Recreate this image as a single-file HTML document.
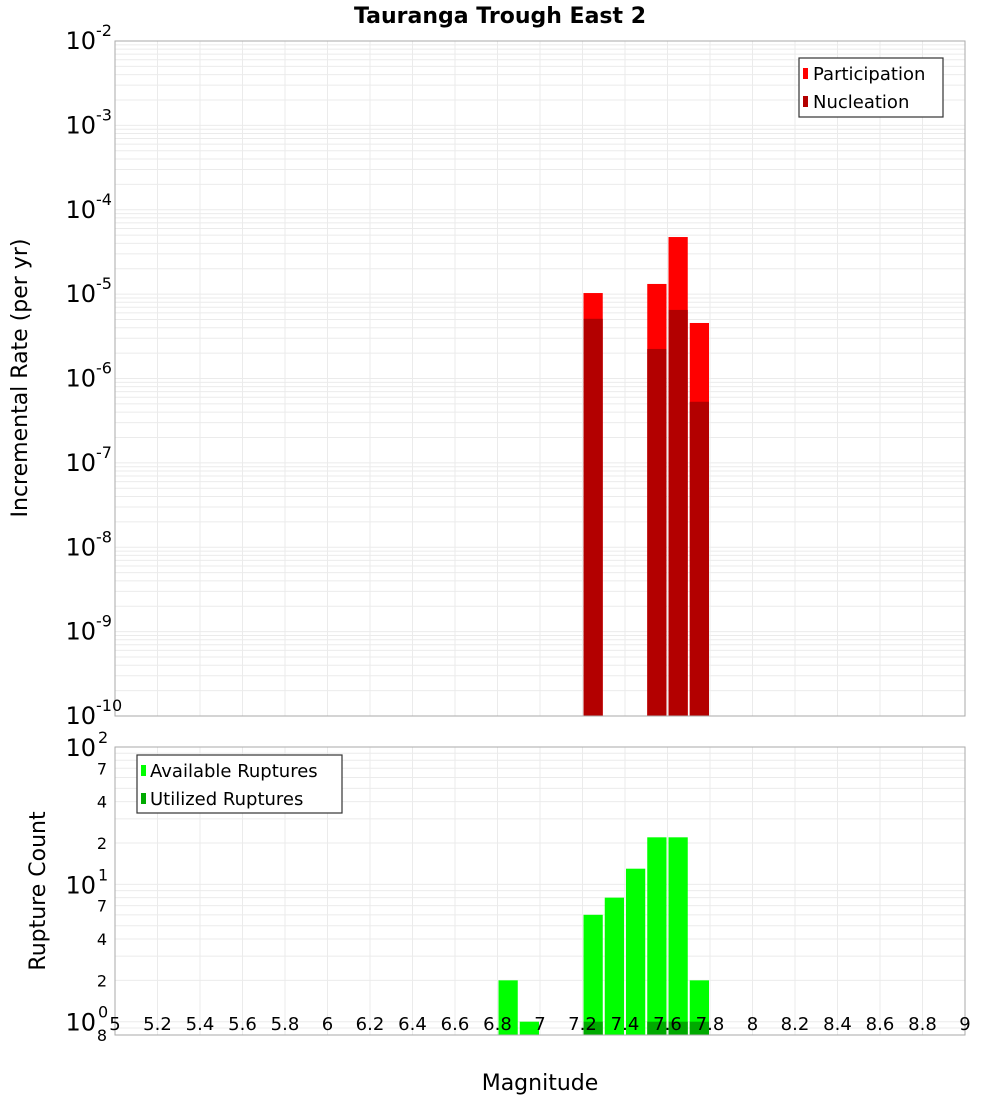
<!DOCTYPE html>
<html><head><meta charset="utf-8"><style>
body{margin:0;background:#fff;}
svg{display:block;font-family:"DejaVu Sans","Liberation Sans",sans-serif;}
</style></head><body>
<svg id="chart" width="1000" height="1100" viewBox="0 0 1000 1100" xmlns="http://www.w3.org/2000/svg">
<text x="500" y="23" text-anchor="middle" font-size="22" font-weight="bold">Tauranga Trough East 2</text>
<g id="topPanel"></g>
<g id="botPanel"></g>
<text transform="translate(27,378) rotate(-90)" text-anchor="middle" font-size="22">Incremental Rate (per yr)</text>
<text transform="translate(45,891) rotate(-90)" text-anchor="middle" font-size="22">Rupture Count</text>
<text x="540" y="1090" text-anchor="middle" font-size="22">Magnitude</text>
<g>
<rect x="799" y="58" width="144" height="59" fill="#fff" stroke="#333" stroke-width="1.2"/>
<rect x="803" y="68" width="5" height="11" fill="#ff0000"/>
<text x="813" y="80" font-size="18">Participation</text>
<rect x="803" y="96" width="5" height="11" fill="#b30000"/>
<text x="813" y="108" font-size="18">Nucleation</text>
</g>
<g>
<rect x="137" y="755" width="205" height="58" fill="#fff" stroke="#333" stroke-width="1.2"/>
<rect x="141" y="765" width="5" height="11" fill="#00ff00"/>
<text x="150" y="777" font-size="18">Available Ruptures</text>
<rect x="141" y="793" width="5" height="11" fill="#00aa00"/>
<text x="150" y="805" font-size="18">Utilized Ruptures</text>
</g>
</svg>
<script>
const xTicks = [5,5.2,5.4,5.6,5.8,6,6.2,6.4,6.6,6.8,7,7.2,7.4,7.6,7.8,8,8.2,8.4,8.6,8.8,9];
const rateMags = [7.25,7.55,7.65,7.75];
const participation = [1.03e-5,1.32e-5,4.75e-5,4.55e-6];
const nucleation = [5.1e-6,2.24e-6,6.5e-6,5.3e-7];
const countMags = [6.85,6.95,7.25,7.35,7.45,7.55,7.65,7.75];
const available = [2,1,6,8,13,22,22,2];
const utilizedMags = [7.25,7.55,7.65,7.75];
const utilized = [1,1,1,1];
const rateExps = [-2,-3,-4,-5,-6,-7,-8,-9,-10];
const countExps = [0,1,2];

const NS="http://www.w3.org/2000/svg";
const svg=document.getElementById('chart');
const X0=115,X1=965;
const xs=m=>X0+(m-5)/4*(X1-X0);
const T0=41,T1=716;
const yTop=v=>T0+(-2-Math.log10(v))/8*(T1-T0);
const B0=747,B1=1035,bmin=Math.log10(0.8),bmax=2;
const yBot=v=>B1-(Math.log10(v)-bmin)/(bmax-bmin)*(B1-B0);
function mk(tag,attrs,parent){const e=document.createElementNS(NS,tag);for(const k in attrs)e.setAttribute(k,attrs[k]);(parent||svg).appendChild(e);return e;}
const topG=document.getElementById('topPanel'),botG=document.getElementById('botPanel');
mk('rect',{x:X0,y:T0,width:X1-X0,height:T1-T0,fill:'#fff'},topG);
mk('rect',{x:X0,y:B0,width:X1-X0,height:B1-B0,fill:'#fff'},botG);
for(let d=-10;d<-2;d++){for(let k=1;k<10;k++){const y=yTop(k*Math.pow(10,d));const l=mk('line',{x1:X0,x2:X1,y1:y,y2:y,stroke:'#ebebeb','stroke-width':1},topG);

}}
for(let d=-1;d<2;d++){for(let k=1;k<10;k++){const v=k*Math.pow(10,d);if(v<0.8)continue;const y=yBot(v);const l=mk('line',{x1:X0,x2:X1,y1:y,y2:y,stroke:'#ebebeb','stroke-width':1},botG);

}}
xTicks.forEach(t=>{const x=xs(t);
 mk('line',{x1:x,x2:x,y1:T0,y2:T1,stroke:'#ebebeb'},topG);
 mk('line',{x1:x,x2:x,y1:B0,y2:B1,stroke:'#ebebeb'},botG);
 const tx=mk('text',{x:x,y:1030,'text-anchor':'middle','font-size':18});tx.textContent=String(t);
 
 });
const bw=(X1-X0)/40;
function bar(m,v,fill,yf,base,parent,name){const y=yf(v);const r=mk('rect',{x:xs(m)-bw/2+1,y:y,width:bw-2,height:base-y,fill:fill},parent);

}
rateMags.forEach((m,i)=>bar(m,participation[i],'#ff0000',yTop,T1,topG,'participation-bar'));
rateMags.forEach((m,i)=>bar(m,nucleation[i],'#b30000',yTop,T1,topG,'nucleation-bar'));
countMags.forEach((m,i)=>bar(m,available[i],'#00ff00',yBot,B1,botG,'available-bar'));
utilizedMags.forEach((m,i)=>bar(m,utilized[i],'#00aa00',yBot,B1,botG,'utilized-bar'));
mk('rect',{x:X0,y:T0,width:X1-X0,height:T1-T0,fill:'none',stroke:'#aaa'},topG);
mk('rect',{x:X0,y:B0,width:X1-X0,height:B1-B0,fill:'none',stroke:'#aaa'},botG);
rateExps.forEach(e=>{const y=yTop(Math.pow(10,e));const t=mk('text',{x:96,y:y+8,'text-anchor':'end','font-size':24});t.textContent='10';
 
 
 const s=mk('text',{x:96,y:y-5,'font-size':16});s.textContent=String(e);});
countExps.forEach(e=>{const y=yBot(Math.pow(10,e));const t=mk('text',{x:96,y:y+9,'text-anchor':'end','font-size':24});t.textContent='10';
 
 
 const s=mk('text',{x:98,y:y-4,'font-size':16});s.textContent=String(e);});
[0.8,2,4,7,20,40,70].forEach(v=>{const y=yBot(v);const t=mk('text',{x:107,y:y+6,'text-anchor':'end','font-size':16});t.textContent=String(v===0.8?8:(v>=10?v/10:v));
 
 });
</script>
</body></html>
